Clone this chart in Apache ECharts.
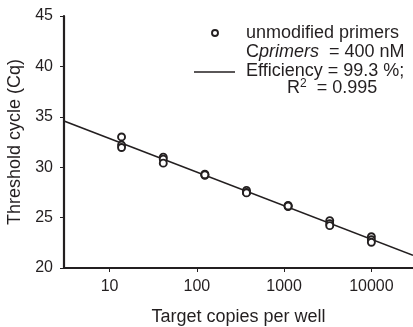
<!DOCTYPE html>
<html>
<head>
<meta charset="utf-8">
<script src="https://cdn.jsdelivr.net/npm/echarts@6/dist/echarts.min.js"></script>
<style>
html,body{margin:0;padding:0;background:#fff;}
#chart{width:413px;height:327px;}
</style>
</head>
<body>
<div id="chart"></div>
<script>
// Target copies per well (3-fold dilution series)
const copies = [13.7, 41.2, 123.5, 370.4, 1111, 3333, 10000];
// Cq replicates
const cqRep1 = [33.0, 31.0, 29.3, 27.7, 26.2, 24.7, 23.1];
const cqRep2 = [32.2, 30.8, 29.2, 27.5, 26.1, 24.4, 22.8];
const cqRep3 = [31.95, 30.4, 29.25, 27.45, 26.15, 24.2, 22.55];
// Fitted standard curve (read at axis ends)
const fitX = [3, 30000];
const fitY = [34.58, 21.26];
// Tick labels
const xTicks = [10, 100, 1000, 10000];
const yTicks = [20, 25, 30, 35, 40, 45];

const ink = '#231f20';
const font = 'Liberation Sans, Arial, sans-serif';

const points = [];
[cqRep1, cqRep2, cqRep3].forEach(rep => {
  rep.forEach((v, i) => points.push([copies[i], v]));
});
const fitData = fitX.map((x, i) => [x, fitY[i]]);

const chart = echarts.init(document.getElementById('chart'), null, {renderer: 'canvas'});
chart.setOption({
  animation: false,
  backgroundColor: '#fff',
  grid: {left: 64, top: 16, right: 0, bottom: 59, containLabel: false, outerBoundsMode: 'none'},
  xAxis: {
    type: 'log',
    logBase: 10,
    min: 3,
    max: 30000,
    name: 'Target copies per well',
    nameLocation: 'middle',
    nameGap: 40,
    nameTextStyle: {fontFamily: font, fontSize: 18, color: ink},
    axisLine: {show: true, lineStyle: {color: ink, width: 2.2}},
    axisTick: {show: true, inside: false, length: 4, lineStyle: {color: ink, width: 1}, customValues: xTicks},
    axisLabel: {fontFamily: font, fontSize: 16, color: ink, margin: 11, customValues: xTicks,
      formatter: v => String(Math.round(v))},
    splitLine: {show: false},
    minorTick: {show: false}
  },
  yAxis: {
    type: 'value',
    min: 20,
    max: 45,
    interval: 5,
    name: 'Threshold cycle (Cq)',
    nameLocation: 'middle',
    nameGap: 40,
    nameTextStyle: {fontFamily: font, fontSize: 18, color: ink},
    axisLine: {show: true, lineStyle: {color: ink, width: 2.2}},
    axisTick: {show: true, inside: false, length: 4, lineStyle: {color: ink, width: 1}},
    axisLabel: {fontFamily: font, fontSize: 16, color: ink, margin: 11,
      formatter: v => yTicks.indexOf(v) >= 0 ? String(v) : ''},
    splitLine: {show: false}
  },
  series: [
    {
      type: 'line',
      data: fitData,
      symbol: 'none',
      lineStyle: {color: ink, width: 1.7},
      z: 2
    },
    {
      type: 'scatter',
      data: points,
      symbol: 'circle',
      symbolSize: 7,
      itemStyle: {color: '#fff', borderColor: ink, borderWidth: 1.9, opacity: 1},
      z: 3
    }
  ],
  graphic: [
    {type: 'circle', shape: {cx: 215, cy: 33, r: 3}, style: {fill: '#fff', stroke: ink, lineWidth: 1.9}},
    {type: 'line', shape: {x1: 194, y1: 72, x2: 235, y2: 72}, style: {stroke: ink, lineWidth: 1.7}},
    {type: 'text', left: 246, top: 24, style: {text: 'unmodified primers', font: '18px ' + font, fill: ink}},
    {type: 'text', left: 246, top: 43, style: {
      text: 'C{i|primers}  = 400 nM',
      font: '18px ' + font, fill: ink,
      rich: {i: {fontStyle: 'italic', fontSize: 18, fontFamily: font, fill: ink}}
    }},
    {type: 'text', left: 246, top: 62, style: {text: 'Efficiency = 99.3 %;', font: '18px ' + font, fill: ink}},
    {type: 'text', left: 287, top: 78, style: {
      text: 'R{s|2}  = 0.995',
      font: '18px ' + font, fill: ink,
      rich: {s: {fontSize: 12, fontFamily: font, fill: ink, verticalAlign: 'top', padding: [0, 0, 8, 0]}}
    }}
  ]
});
</script>
</body>
</html>
